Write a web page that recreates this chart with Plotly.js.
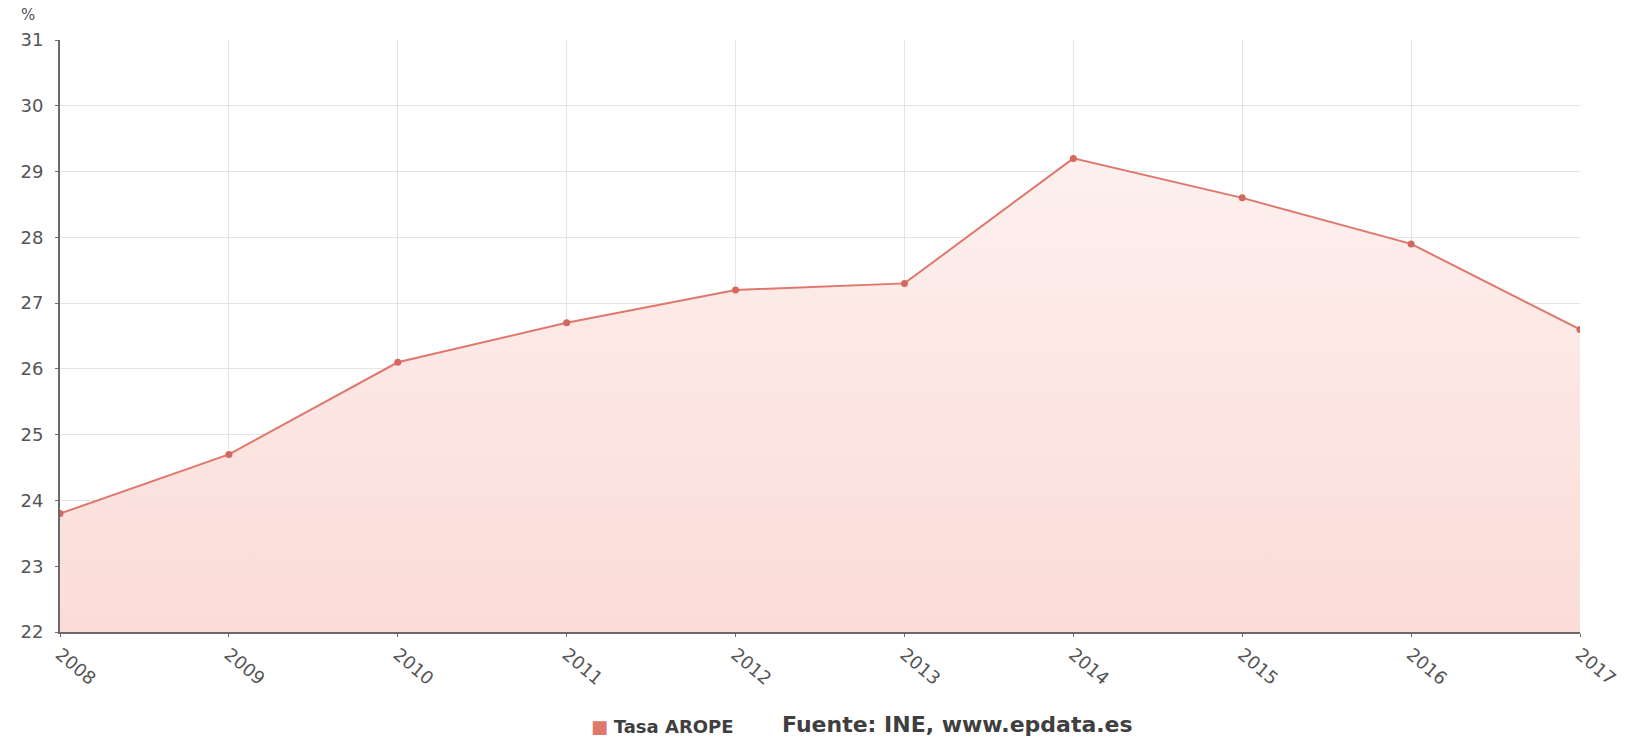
<!DOCTYPE html>
<html>
<head>
<meta charset="utf-8">
<script src="https://cdn.plot.ly/plotly-3.0.1.min.js"></script>
<style>
html,body{margin:0;padding:0;background:#fff;}
#chart{width:1631px;height:737px;}
</style>
</head>
<body>
<div id="chart"></div>
<script>
const years = ['2008','2009','2010','2011','2012','2013','2014','2015','2016','2017'];
const tasaArope = [23.8, 24.7, 26.1, 26.7, 27.2, 27.3, 29.2, 28.6, 27.9, 26.6];
const yTicks = [22, 23, 24, 25, 26, 27, 28, 29, 30, 31];
const seriesName = 'Tasa AROPE';
const sourceText = 'Fuente: INE, www.epdata.es';
const unitLabel = '%';

const lineColor = '#e0776d';
const textColor = '#555555';
const fontFamily = '"DejaVu Sans", "Open Sans", sans-serif';

const trace = {
  x: years.map(Number),
  y: tasaArope,
  type: 'scatter',
  mode: 'lines+markers',
  name: seriesName,
  line: {color: lineColor, width: 2},
  marker: {color: '#d4685e', size: 7},
  fill: 'tozeroy',
  fillgradient: {
    type: 'vertical',
    start: 22,
    stop: 31,
    colorscale: [[0, 'rgb(251,220,216)'], [0.8, 'rgb(253,240,238)'], [1, 'rgb(254,248,247)']]
  },
  hoverinfo: 'x+y',
  showlegend: false
};

const layout = {
  width: 1631,
  height: 737,
  margin: {l: 60, r: 51, t: 40, b: 105},
  paper_bgcolor: '#ffffff',
  plot_bgcolor: '#ffffff',
  font: {family: fontFamily, color: textColor, size: 17},
  showlegend: false,
  xaxis: {
    range: [2008, 2017],
    tickmode: 'array',
    tickvals: years.map(Number),
    ticktext: years,
    tickangle: 40,
    showgrid: true,
    gridcolor: '#e4e4e4',
    gridwidth: 1,
    showline: true,
    linecolor: '#6a6a6a',
    linewidth: 2,
    ticks: 'outside',
    ticklen: 3,
    tickcolor: '#6a6a6a',
    tickfont: {size: 18, color: textColor, family: fontFamily},
    zeroline: false,
    fixedrange: true
  },
  yaxis: {
    range: [22, 31],
    tickmode: 'array',
    tickvals: yTicks,
    showgrid: true,
    gridcolor: '#e4e4e4',
    gridwidth: 1,
    showline: true,
    linecolor: '#6a6a6a',
    linewidth: 2,
    ticks: 'outside',
    ticklen: 3,
    tickcolor: '#6a6a6a',
    ticklabelstandoff: 8,
    tickfont: {size: 18, color: textColor, family: fontFamily},
    zeroline: false,
    fixedrange: true
  },
  annotations: [
    {
      xref: 'paper', yref: 'paper',
      x: -0.021, y: 1.0, yshift: 25,
      xanchor: 'center', yanchor: 'middle',
      text: unitLabel,
      showarrow: false,
      font: {size: 15, color: textColor, family: fontFamily}
    },
    {
      xref: 'paper', yref: 'paper',
      x: 0.348, y: 0, yshift: -94,
      xanchor: 'left', yanchor: 'middle',
      text: '<span style="color:' + lineColor + '">■</span> <b>' + seriesName + '</b>',
      showarrow: false,
      font: {size: 18, color: '#3f3f3f', family: fontFamily}
    },
    {
      xref: 'paper', yref: 'paper',
      x: 0.4737, y: 0, yshift: -92,
      xanchor: 'left', yanchor: 'middle',
      text: '<b>' + sourceText + '</b>',
      showarrow: false,
      font: {size: 22, color: '#3f3f3f', family: fontFamily}
    }
  ]
};

Plotly.newPlot('chart', [trace], layout, {displayModeBar: false, staticPlot: true});
</script>
</body>
</html>
